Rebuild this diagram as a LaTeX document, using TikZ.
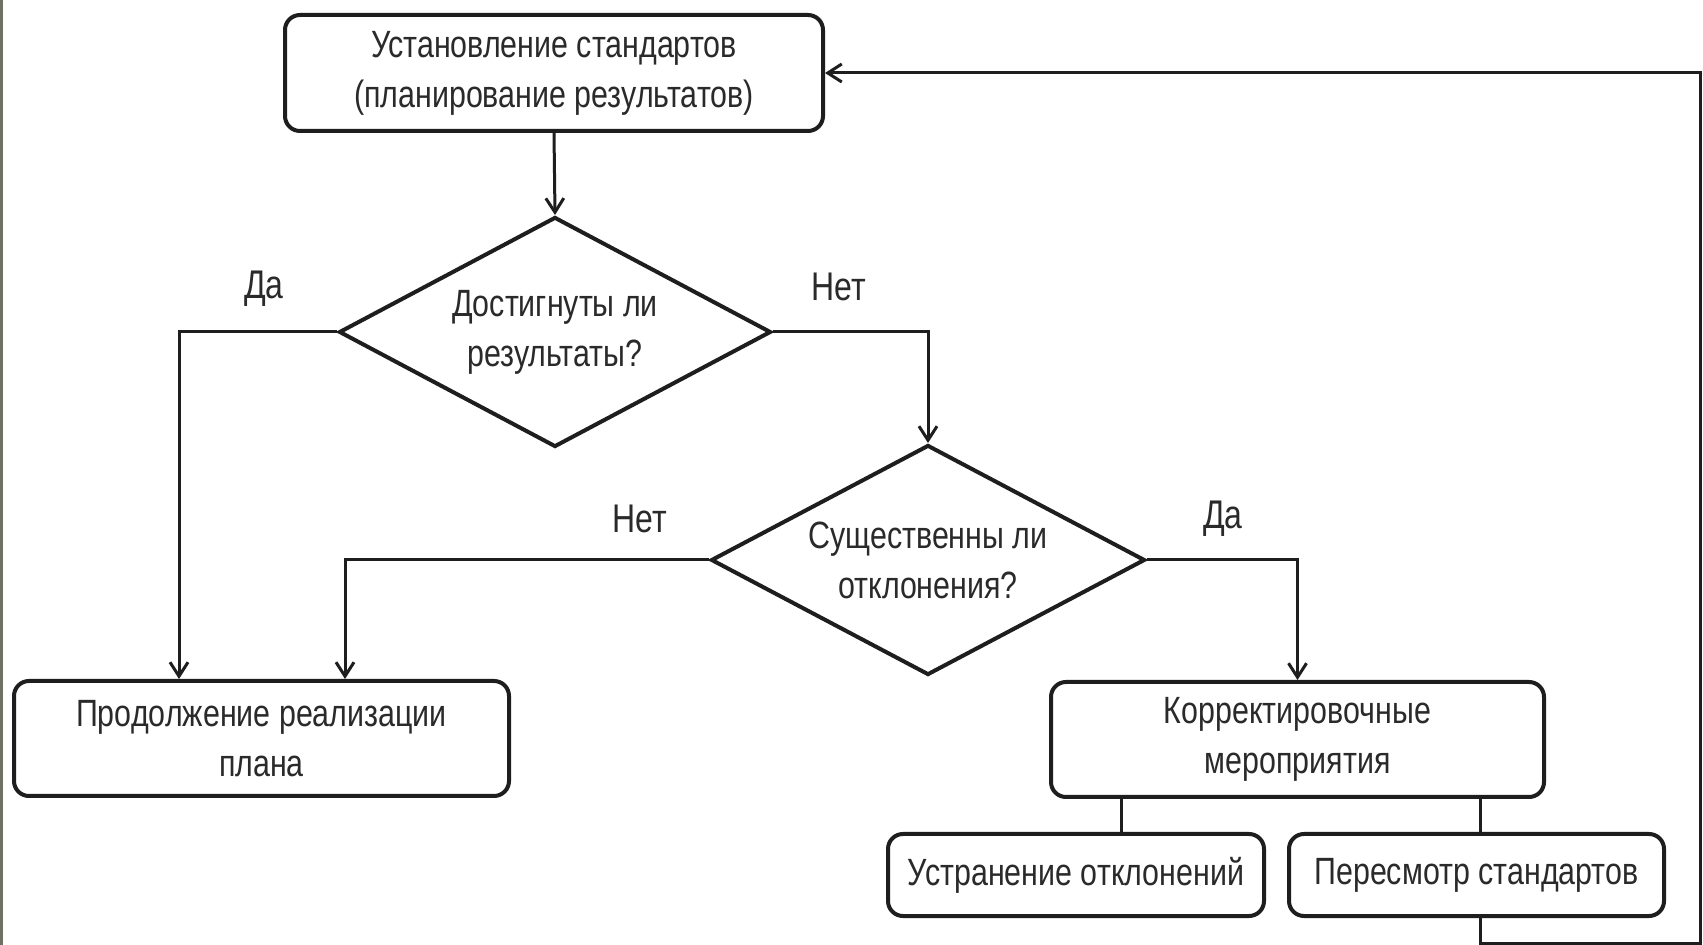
\documentclass[tikz,border=0pt]{standalone}
\usepackage{fontspec}
\setmainfont[FakeStretch=0.8]{Liberation Sans}
\usetikzlibrary{shapes.geometric,arrows.meta,calc}
\definecolor{ink}{HTML}{1E1E1E}
\definecolor{txt}{HTML}{2A2A2A}
\definecolor{strip}{HTML}{6E7262}
\begin{document}
\begin{tikzpicture}[x=0.5pt,y=-0.5pt,
  every node/.style={font=\fontsize{19}{25}\selectfont, text=txt, align=center},
  boxnode/.style={draw=ink, line width=2pt, rounded corners=7.5pt, inner sep=0pt},
  dianode/.style={draw=ink, line width=2pt, diamond, shape aspect=1.88, inner sep=0pt},
  conn/.style={draw=ink, line width=1.5pt},
  arr/.style={conn, -{Straight Barb[length=7pt,width=9pt,line width=1.5pt]}},
  lbl/.style={font=\fontsize{20}{24}\selectfont}]
\useasboundingbox (0,0) rectangle (1703,945);
\fill[white] (0,0) rectangle (1703,945);
\fill[strip] (0,0) rectangle (3,945);

\node[boxnode, minimum width=269pt, minimum height=58pt] (top) at (554,73)
  {Установление стандартов\\(планирование результатов)};
\node[dianode, minimum width=216pt, minimum height=115pt] (d1) at (555,332)
  {Достигнуты ли\\результаты?};
\node[dianode, minimum width=217pt, minimum height=115pt] (d2) at (928,560)
  {Существенны ли\\отклонения?};
\node[boxnode, minimum width=247.5pt, minimum height=57.5pt] (cont) at (261.5,738.5)
  {Продолжение реализации\\плана};
\node[boxnode, minimum width=246.5pt, minimum height=57.5pt] (corr) at (1297.5,739.5)
  {Корректировочные\\мероприятия};
\node[boxnode, minimum width=188pt, minimum height=41pt] (elim) at (1076,875)
  {Устранение отклонений};
\node[boxnode, minimum width=187.5pt, minimum height=41pt] (rev) at (1476.5,875)
  {Пересмотр стандартов};

\node[lbl] (l1) at (264,289) {Да};
\node[lbl] (l2) at (839,287) {Нет};
\node[lbl] (l3) at (640,519) {Нет};
\node[lbl] (l4) at (1223,519) {Да};

\coordinate (xa) at (179,0);
\coordinate (xb) at (345,0);
\coordinate (xc) at (1121,0);
\coordinate (xd) at (1480,0);
\coordinate (corner) at (1700,943);

\draw[arr] (top.south) -- (d1.north);
\draw[arr] (d1.west) -| (cont.north -| xa);
\draw[arr] (d2.west) -| (cont.north -| xb);
\draw[arr] (d1.east) -| (d2.north);
\draw[arr] (d2.east) -| (corr.north);
\draw[conn] (corr.south -| xc) -- (elim.north -| xc);
\draw[conn] (corr.south -| xd) -- (rev.north -| xd);
\draw[arr] (rev.south -| xd) |- (corner) |- (top.east);
\end{tikzpicture}
\end{document}
